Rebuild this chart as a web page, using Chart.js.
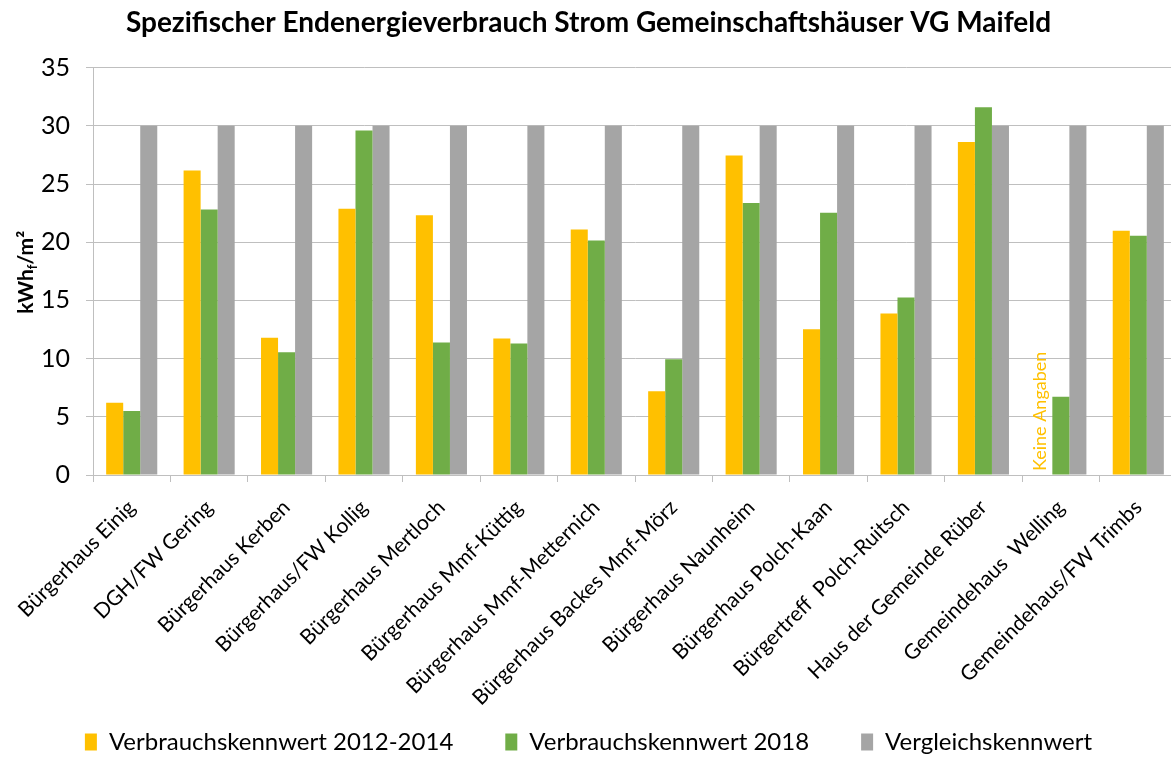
<!DOCTYPE html>
<html>
<head>
<meta charset="utf-8">
<script src="https://cdn.jsdelivr.net/npm/chart.js@4.4.1/dist/chart.umd.min.js"></script>
<style>
    html, body { margin: 0; padding: 0; background: #fff; overflow: hidden; }
    canvas { display: block; }
</style>
</head>
<body>
<canvas id="energyChart" width="1180" height="758"></canvas>
<script>
// Chart data
// ==========

const categories = [
    'Bürgerhaus Einig',
    'DGH/FW Gering',
    'Bürgerhaus Kerben',
    'Bürgerhaus/FW Kollig',
    'Bürgerhaus Mertloch',
    'Bürgerhaus Mmf-Küttig',
    'Bürgerhaus Mmf-Metternich',
    'Bürgerhaus Backes Mmf-Mörz',
    'Bürgerhaus Naunheim',
    'Bürgerhaus Polch-Kaan',
    'Bürgertreff  Polch-Ruitsch',
    'Haus der Gemeinde Rüber',
    'Gemeindehaus  Welling',
    'Gemeindehaus/FW Trimbs'
];

const values2012to2014 = [6.2, 26.15, 11.8, 22.87, 22.32, 11.72, 21.1, 7.2, 27.44, 12.52, 13.87, 28.6, null, 20.98];
const values2018 = [5.5, 22.8, 10.55, 29.6, 11.38, 11.29, 20.15, 9.95, 23.36, 22.53, 15.24, 31.6, 6.72, 20.55];
const comparisonValues = [30, 30, 30, 30, 30, 30, 30, 30, 30, 30, 30, 30, 30, 30];

const yMin = 0;
const yMax = 35;
const yStep = 5;

const seriesLabels = ['Verbrauchskennwert 2012-2014', 'Verbrauchskennwert 2018', 'Vergleichskennwert'];
const seriesColors = ['#FFC000', '#70AD47', '#A5A5A5'];
const noDataText = 'Keine Angaben';

const FONT = 'Lato, "Open Sans", sans-serif';
const GRID_COLOR = '#BFBFBF';

// Y axis title with subscript "f"
const yAxisTitlePlugin = {
    id: 'yAxisTitle',
    afterDraw(chart) {
        const ctx = chart.ctx;
        const area = chart.chartArea;
        const big = 'bold 21px ' + FONT;
        const small = 'bold 13px ' + FONT;
        ctx.save();
        ctx.font = big;
        const w1 = ctx.measureText('kWh').width;
        const w3 = ctx.measureText('/m²').width;
        ctx.font = small;
        const w2 = ctx.measureText('f').width;
        const total = w1 + w2 + w3;
        ctx.translate(26, (area.top + area.bottom) / 2 + 1);
        ctx.rotate(-Math.PI / 2);
        ctx.fillStyle = '#000';
        ctx.textBaseline = 'alphabetic';
        ctx.textAlign = 'left';
        let x = -total / 2;
        ctx.font = big;
        ctx.fillText('kWh', x, 7);
        x += w1;
        ctx.font = small;
        ctx.fillText('f', x, 11);
        x += w2;
        ctx.font = big;
        ctx.fillText('/m²', x, 7);
        ctx.restore();
    }
};

// Vertical "Keine Angaben" note where the first series has no value
const noDataPlugin = {
    id: 'noDataNote',
    afterDatasetsDraw(chart) {
        const ctx = chart.ctx;
        const meta = chart.getDatasetMeta(1);
        values2012to2014.forEach((v, i) => {
            if (v !== null) return;
            const bar = meta.data[i];
            const x = bar.x - bar.width - 4;
            const y = chart.scales.y.getPixelForValue(0) - 4;
            ctx.save();
            ctx.translate(x, y);
            ctx.rotate(-Math.PI / 2);
            ctx.font = '18px ' + FONT;
            ctx.fillStyle = seriesColors[0];
            ctx.textAlign = 'left';
            ctx.textBaseline = 'middle';
            ctx.fillText(noDataText, 0, 0);
            ctx.restore();
        });
    }
};

// Long rotated category labels reach below the x axis box (into the legend
// band), so stretch the box used for label clipping down to the canvas bottom
const labelClipPlugin = {
    id: 'labelClip',
    afterLayout(chart) {
        chart.scales.x.bottom = chart.height;
    }
};

const datasets = [values2012to2014, values2018, comparisonValues].map((data, i) => ({
    label: seriesLabels[i],
    data: data,
    backgroundColor: seriesColors[i],
    borderWidth: 0,
    categoryPercentage: 0.66,
    barPercentage: 1.0
}));

new Chart(document.getElementById('energyChart'), {
    type: 'bar',
    data: {
        labels: categories,
        datasets: datasets
    },
    options: {
        responsive: false,
        devicePixelRatio: 1,
        animation: false,
        layout: {
            padding: { left: 0, right: 3, top: 0, bottom: -6 }
        },
        plugins: {
            title: {
                display: true,
                text: 'Spezifischer Endenergieverbrauch Strom Gemeinschaftshäuser VG Maifeld',
                color: '#000',
                font: { family: FONT, size: 28, weight: 'bold' },
                padding: { top: 6, bottom: 28 }
            },
            legend: {
                position: 'bottom',
                labels: {
                    color: '#000',
                    font: { family: FONT, size: 24 },
                    boxWidth: 12,
                    boxHeight: 17,
                    padding: 52
                }
            },
            tooltip: { enabled: false }
        },
        scales: {
            x: {
                grid: {
                    display: true,
                    drawOnChartArea: false,
                    drawTicks: true,
                    tickLength: 7,
                    color: GRID_COLOR,
                    offset: true
                },
                border: { display: true, color: GRID_COLOR },
                ticks: {
                    autoSkip: false,
                    minRotation: 45,
                    maxRotation: 45,
                    color: '#000',
                    font: { family: FONT, size: 21 },
                    padding: 13
                },
                afterFit: function(scale) {
                    scale.height = 203;
                }
            },
            y: {
                min: yMin,
                max: yMax,
                ticks: {
                    stepSize: yStep,
                    color: '#000',
                    font: { family: FONT, size: 25 },
                    padding: 16
                },
                grid: {
                    color: GRID_COLOR,
                    tickLength: 7
                },
                border: { display: true, color: GRID_COLOR },
                afterFit: function(scale) {
                    scale.width = 93;
                }
            }
        }
    },
    plugins: [yAxisTitlePlugin, noDataPlugin, labelClipPlugin]
});
</script>
</body>
</html>
